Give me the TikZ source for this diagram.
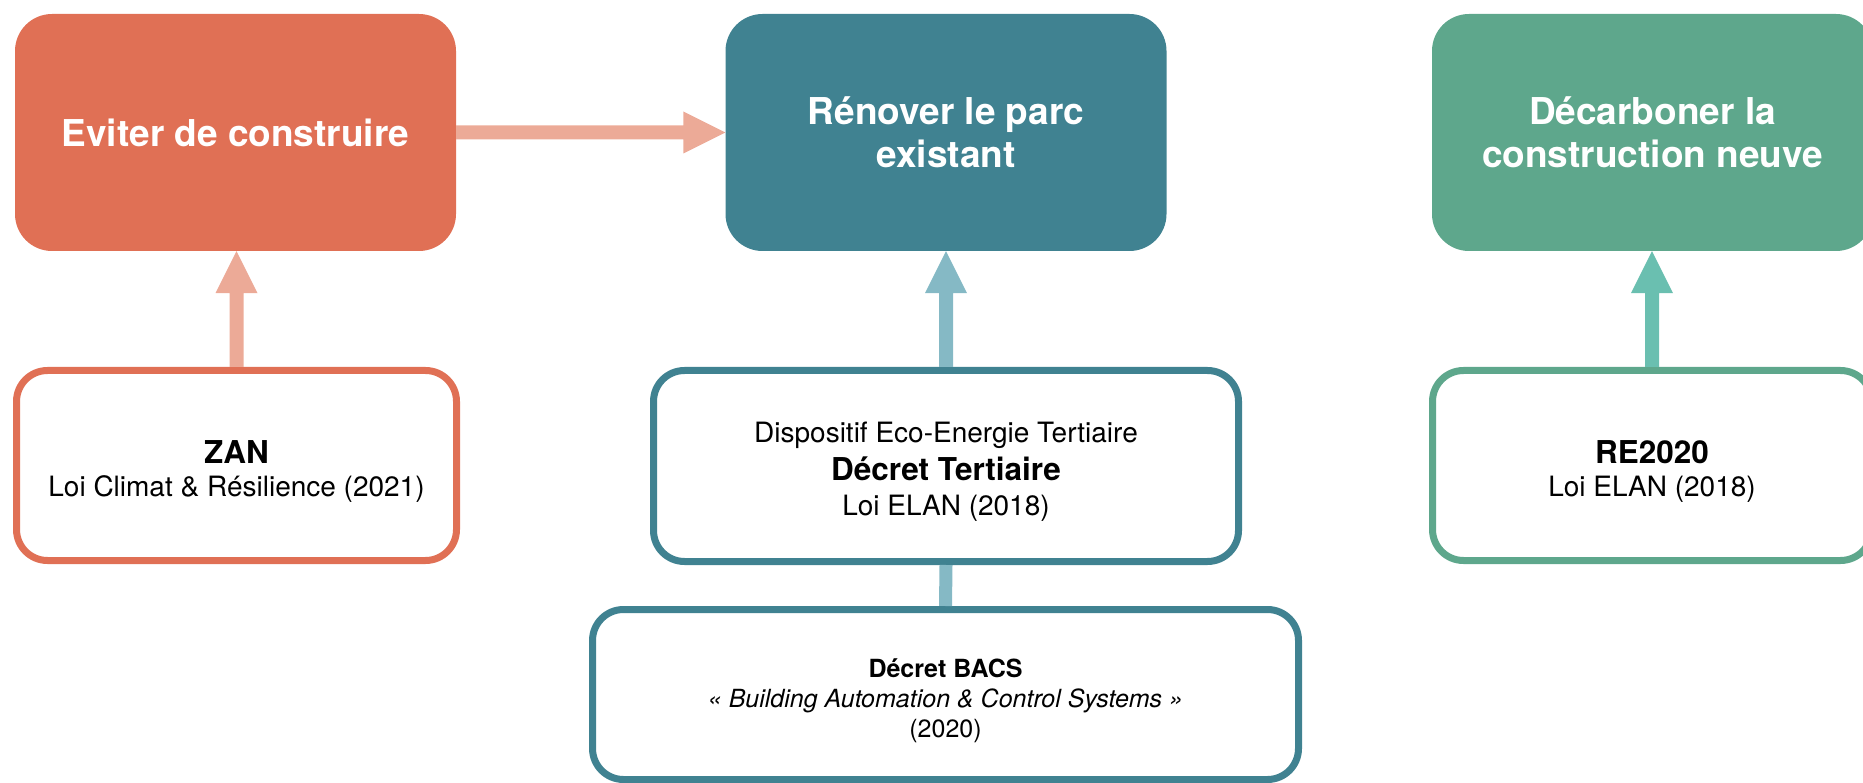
\documentclass[tikz,border=0pt]{standalone}
\usepackage{fontspec}
\setmainfont{TeX Gyre Heros}
\usetikzlibrary{calc}
\definecolor{oDark}{HTML}{E07055}
\definecolor{oLight}{HTML}{ECAA97}
\definecolor{tDark}{HTML}{408291}
\definecolor{tLight}{HTML}{85B9C5}
\definecolor{gDark}{HTML}{5EA78C}
\definecolor{gLight}{HTML}{6ABFB0}
\newcommand\vArrow[3]{%
  \fill[#3] let \p1=(#1.north), \p2=(#2.south) in
    (\x1-7pt,\y1) -- (\x1-7pt,\y2-42pt) -- (\x1-21pt,\y2-42pt) -- (\x1,\y2)
    -- (\x1+21pt,\y2-42pt) -- (\x1+7pt,\y2-42pt) -- (\x1+7pt,\y1) -- cycle;}
\newcommand\ttl[1]{{\bfseries\fontsize{31.5}{34}\selectfont #1}}
\begin{document}
\begin{tikzpicture}[x=1pt,y=-1pt,
  goal/.style={rounded corners=37pt, inner sep=0pt, minimum width=441pt,
    minimum height=237pt, align=center, text=white,
    font=\bfseries\fontsize{37}{43}\selectfont},
  law/.style={draw, line width=7pt, fill=white, rounded corners=31pt,
    inner sep=0pt},
  lawtext/.style={inner sep=0pt, align=center, text=black,
    font=\fontsize{28}{32.5}\selectfont}]
\useasboundingbox (0,0) rectangle (1863,783);

\node[goal, fill=oDark] (eviter) at (235.5,132.5) {Eviter de construire};
\node[goal, fill=tDark] (renover) at (946,132.5) {Rénover le parc\\existant};
\node[goal, fill=gDark] (decarb) at (1652.5,132.5) {Décarboner la\\construction neuve};

\node[law, draw=oDark, minimum width=440pt, minimum height=190pt] (zan) at (236.5,465.5) {};
\node[law, draw=tDark, minimum width=585pt, minimum height=191pt] (dt) at (946,466) {};
\node[law, draw=tDark, minimum width=706pt, minimum height=170pt] (bacs) at (945.5,694.5) {};
\node[law, draw=gDark, minimum width=439pt, minimum height=190pt] (re) at (1652,465.5) {};

\node[lawtext] (zanT) at ([yshift=-6pt]zan.center)
  {\ttl{ZAN}\\Loi Climat \& Résilience (2021)};
\node[lawtext, font=\fontsize{28}{34.3}\selectfont] (dtT) at ([yshift=-5.5pt]dt.center)
  {Dispositif Eco-Energie Tertiaire\\[4pt]\ttl{Décret Tertiaire}\\Loi ELAN (2018)};
\node[lawtext, font=\fontsize{25}{30.2}\selectfont] (bacsT) at ([yshift=-6.5pt]bacs.center)
  {\textbf{Décret BACS}\\\textit{« Building Automation \& Control Systems »}\\(2020)};
\node[lawtext] (reT) at ([yshift=-6pt]re.center)
  {\ttl{RE2020}\\Loi ELAN (2018)};

\vArrow{zan}{eviter}{oLight}
\vArrow{dt}{renover}{tLight}
\vArrow{re}{decarb}{gLight}

\fill[oLight] let \p1=(eviter.east), \p2=(renover.west) in
  (\x1,\y1+7pt) -- (\x2-42pt,\y1+7pt) -- (\x2-42pt,\y1+21pt) -- (\x2,\y1)
  -- (\x2-42pt,\y1-21pt) -- (\x2-42pt,\y1-7pt) -- (\x1,\y1-7pt) -- cycle;

\draw[tLight, line width=13pt] (dt.south) -- (bacs.north);
\end{tikzpicture}
\end{document}
